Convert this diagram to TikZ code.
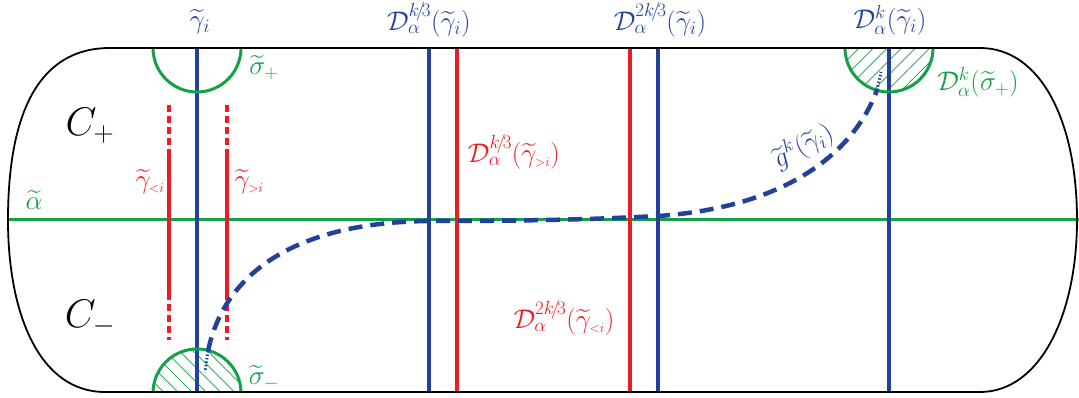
\documentclass[tikz,border=0pt]{standalone}
\usepackage{fix-cm}
\usepackage{amsmath}
\usetikzlibrary{patterns.meta}
\definecolor{cblue}{RGB}{35,65,155}
\definecolor{cred}{RGB}{237,28,36}
\definecolor{cgreen}{RGB}{20,160,70}
\newcommand{\lblfont}{\fontsize{27}{30}\selectfont}
\newcommand{\bigfont}{\fontsize{40}{44}\selectfont}
\newcommand{\kth}{k\!/\!3}
\newcommand{\tkth}{2k\!/\!3}
\begin{document}
\begin{tikzpicture}[x=1pt,y=-1pt,
  outline/.style={line width=1.8pt, black},
  bluel/.style={line width=3.6pt, cblue},
  redl/.style={line width=3.6pt, cred},
  reddash/.style={line width=3.6pt, cred, dash pattern=on 7pt off 4pt},
  greenl/.style={line width=3pt, cgreen},
  bluedash/.style={line width=4.5pt, cblue, dash pattern=on 14pt off 8pt},
  bluedot/.style={line width=3pt, cblue, dash pattern=on 1.5pt off 2pt},
  hatchne/.style={pattern={Lines[angle=45,distance=10pt,line width=0.7pt]}, pattern color=cgreen},
  hatchnw/.style={pattern={Lines[angle=-45,distance=10pt,line width=0.7pt]}, pattern color=cgreen},
  lbl/.style={font=\lblfont, inner sep=0pt},
  big/.style={font=\bigfont, inner sep=0pt}]
\useasboundingbox (0,0) rectangle (1079,398);
% hatched discs
\fill[hatchnw] (153,393) arc[start angle=180,end angle=360,radius=44] -- cycle;
\fill[hatchne] (845,48) arc[start angle=180,end angle=0,radius=44] -- cycle;
% alpha
\draw[greenl] (8,220) -- (1079,220);
% red curves
\draw[reddash] (169,105) -- (169,149);
\draw[redl] (169,149) -- (169,293);
\draw[reddash] (169,293) -- (169,340);
\draw[reddash] (227,105) -- (227,149);
\draw[redl] (227,149) -- (227,293);
\draw[reddash] (227,293) -- (227,340);
\draw[redl] (457,48) -- (457,392);
\draw[redl] (630,48) -- (630,392);
% blue curves
\draw[bluel] (197,48) -- (197,392);
\draw[bluel] (429,48) -- (429,392);
\draw[bluel] (658,48) -- (658,392);
\draw[bluel] (889,48) -- (889,392);
% green semicircles
\draw[greenl] (153,48) arc[start angle=180,end angle=0,radius=44];
\draw[greenl] (153,393) arc[start angle=180,end angle=360,radius=44];
\draw[greenl] (845,48) arc[start angle=180,end angle=0,radius=44];
% g^k curve
\coordinate (s0) at (205,372);
\coordinate (s1) at (208,351);
\coordinate (m1) at (430,221);
\coordinate (m2) at (658,216);
\coordinate (e1) at (877,90);
\coordinate (e0) at (881,72);
\draw[bluedash] (s1) .. controls (225,270) and (300,222) .. (m1)
  .. controls (540,221) and (600,219) .. (m2)
  .. controls (790,207) and (855,150) .. (e1);
\draw[bluedot] (s1) -- (s0);
\draw[bluedot] (e1) -- (e0);
% outline
\draw[outline] (110,48) -- (980,48) .. controls (1040,48) and (1077,120) .. (1077,220)
  .. controls (1077,315) and (1040,392) .. (980,392) -- (105,392)
  .. controls (40,392) and (8,315) .. (8,220) .. controls (8,120) and (35,48) .. (110,48) -- cycle;
% labels
\node[lbl, text=cblue] (gi) at (200,22) {$\widetilde{\gamma}_i$};
\node[lbl, text=cblue] (d1) at (429,20) {$\mathcal{D}_\alpha^{\kth}(\widetilde{\gamma}_i)$};
\node[lbl, text=cblue] (d2) at (660,20) {$\mathcal{D}_\alpha^{\tkth}(\widetilde{\gamma}_i)$};
\node[lbl, text=cblue] (d3) at (890,20) {$\mathcal{D}_\alpha^{k}(\widetilde{\gamma}_i)$};
\node[lbl, text=cgreen] (sp) at (264,68) {$\widetilde{\sigma}_+$};
\node[lbl, text=cgreen] (sm) at (264,378) {$\widetilde{\sigma}_-$};
\node[lbl, text=cgreen] (dsp) at (978,82) {$\mathcal{D}_\alpha^{k}(\widetilde{\sigma}_+)$};
\node[lbl, text=cgreen] (al) at (34,200) {$\widetilde{\alpha}$};
\node[big] (cp) at (90,126) {$C_+$};
\node[big] (cm) at (90,318) {$C_-$};
\node[lbl, text=cred] (gl) at (150,182) {$\widetilde{\gamma}_{\scriptscriptstyle <i}$};
\node[lbl, text=cred] (gr) at (249,182) {$\widetilde{\gamma}_{\scriptscriptstyle >i}$};
\node[lbl, text=cred] (d1r) at (514,152) {$\mathcal{D}_\alpha^{\kth}(\widetilde{\gamma}_{\scriptscriptstyle >i})$};
\node[lbl, text=cred] (d2r) at (564,318) {$\mathcal{D}_\alpha^{\tkth}(\widetilde{\gamma}_{\scriptscriptstyle <i})$};
\node[lbl, text=cblue, rotate=28] (g) at (803,146) {$\widetilde{g}^k(\widetilde{\gamma}_i)$};
\end{tikzpicture}
\end{document}
